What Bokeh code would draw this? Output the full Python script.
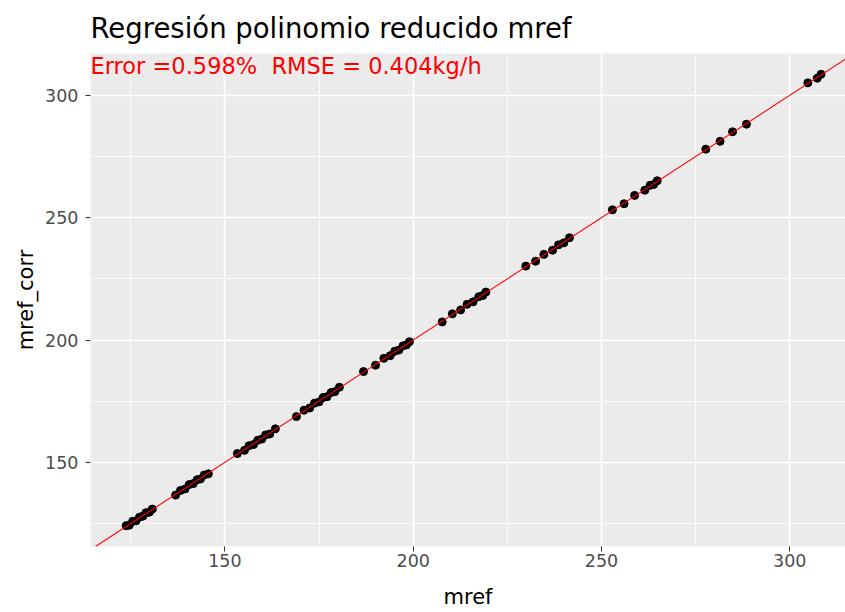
from bokeh.plotting import figure
from bokeh.models import Range1d, SingleIntervalTicker, Slope, Label, ColumnDataSource
from bokeh.embed import file_html
from bokeh.resources import INLINE

# data
mref = [
    123.8, 124.6, 125.5, 126.4, 127.3, 128.2, 129.0, 129.9, 130.7,
    136.9, 138.2, 139.4, 140.5, 141.6, 142.6, 143.5, 144.5, 145.6,
    153.3, 155.2, 156.4, 157.6, 158.7, 159.8, 160.8, 161.9, 163.4,
    169.0,
    171.0, 172.5, 173.8, 175.0, 176.1, 177.1, 178.2, 179.2, 180.4,
    186.8, 190.0, 192.2, 193.9, 195.1, 196.2, 197.3, 198.2, 199.0,
    207.7, 210.4, 212.6, 214.3, 215.9, 217.4, 218.5, 219.3,
    229.9, 232.5, 234.7, 237.0, 238.6, 240.0, 241.5,
    252.9, 256.0, 258.8, 261.5, 262.9, 263.9, 264.8,
    277.7, 281.5, 284.8, 288.5,
    304.8, 307.3, 308.3,
]
mref_corr = [
    124.1, 124.3, 125.9, 126.1, 127.6, 128.0, 129.4, 129.6, 130.9,
    136.6, 138.5, 139.1, 140.9, 141.3, 142.9, 143.2, 144.8, 145.3,
    153.6, 154.9, 156.8, 157.3, 159.0, 159.5, 161.2, 161.6, 163.7,
    168.7,
    171.3, 172.2, 174.2, 174.7, 176.5, 176.8, 178.5, 178.9, 180.7,
    187.1, 189.7, 192.5, 193.6, 195.4, 195.9, 197.6, 198.0, 199.3,
    207.4, 210.7, 212.3, 214.6, 215.6, 217.7, 218.2, 219.6,
    230.2, 232.2, 235.0, 236.7, 238.9, 239.7, 241.8,
    253.2, 255.7, 259.1, 261.2, 263.2, 263.6, 265.1,
    278.0, 281.2, 285.1, 288.2,
    305.1, 307.0, 308.6,
]
fit_slope = 1.0
fit_intercept = 0.0
title_text = "Regresión polinomio reducido mref"
error_text = "Error =0.598%\u00a0 RMSE = 0.404kg/h"
x_label = "mref"
y_label = "mref_corr"

FONT = "DejaVu Sans"

src = ColumnDataSource(data=dict(mref=mref, mref_corr=mref_corr))

p = figure(width=845, height=612, output_backend="svg", toolbar_location=None,
           x_range=Range1d(114.3, 314.8), y_range=Range1d(115.6, 317.1))
p.min_border = 0
p.min_border_left = 90
p.min_border_right = 0
p.min_border_top = 52
p.min_border_bottom = 66

p.background_fill_color = "#EBEBEB"
p.border_fill_color = "white"
p.outline_line_color = None

p.title.text = title_text
p.title.text_font = FONT
p.title.text_font_size = "27.5px"
p.title.text_font_style = "normal"
p.title.text_color = "black"
p.title.align = "left"
p.title.standoff = 19

for ax in (p.xaxis[0], p.yaxis[0]):
    ax.ticker = SingleIntervalTicker(interval=50, num_minor_ticks=2)
    ax.axis_line_color = None
    ax.major_tick_line_color = "#333333"
    ax.major_tick_line_width = 1
    ax.major_tick_in = 0
    ax.major_tick_out = 5
    ax.minor_tick_line_color = None
    ax.major_label_text_font = FONT
    ax.major_label_text_font_size = "17.5px"
    ax.major_label_text_color = "#4D4D4D"
    ax.axis_label_text_font = FONT
    ax.axis_label_text_font_size = "21px"
    ax.axis_label_text_font_style = "normal"
    ax.axis_label_text_color = "black"

p.xaxis.axis_label = x_label
p.yaxis.axis_label = y_label
p.xaxis.major_label_standoff = 2
p.yaxis.major_label_standoff = 7
p.xaxis.axis_label_standoff = 15
p.yaxis.axis_label_standoff = 4

for g in (p.xgrid[0], p.ygrid[0]):
    g.grid_line_color = "white"
    g.grid_line_width = 1.6
    g.minor_grid_line_color = "white"
    g.minor_grid_line_width = 0.8

p.scatter(x="mref", y="mref_corr", source=src, size=8, color="black")

p.add_layout(Slope(gradient=fit_slope, y_intercept=fit_intercept,
                   line_color="red", line_width=1.1))

p.add_layout(Label(x=114.3, y=311.8, text=error_text, text_font=FONT,
                   text_font_size="22.5px", text_color="red",
                   text_align="left", text_baseline="middle"))

open("out.html", "w").write(file_html(p, INLINE))
